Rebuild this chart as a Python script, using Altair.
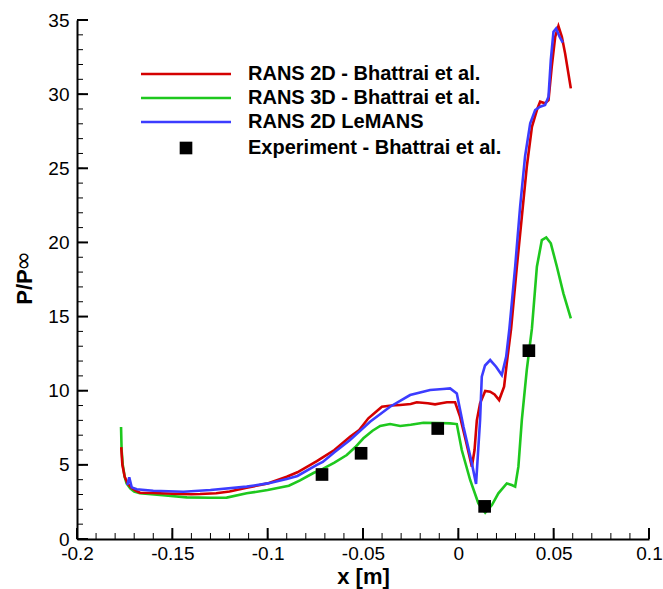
import altair as alt
import pandas as pd

FONT = "Liberation Sans"

# ---- data ----
red_x = [-0.1768, -0.1762, -0.1750, -0.1735, -0.1715, -0.1690, -0.1670, -0.1600, -0.1500, -0.1400,
         -0.1355, -0.1270, -0.1200, -0.1110, -0.1000, -0.0900, -0.0844, -0.0742, -0.0711, -0.0650,
         -0.0568, -0.0520, -0.0472, -0.0430, -0.0401, -0.0350, -0.0305, -0.0250, -0.0218, -0.0160,
         -0.0122, -0.0090, -0.0060, -0.0017, 0.0009, 0.0040, 0.0071, 0.0085, 0.0097, 0.0114,
         0.0141, 0.0167, 0.0190, 0.0214, 0.0240, 0.0254, 0.0277, 0.0307, 0.0333, 0.0359,
         0.0386, 0.0412, 0.0429, 0.0455, 0.0473, 0.0490, 0.0508, 0.0525, 0.0543, 0.0560, 0.0590]
red_y = [6.2, 5.0, 4.2, 3.75, 3.45, 3.25, 3.12, 3.10, 3.05, 3.02,
         3.03, 3.08, 3.2, 3.45, 3.75, 4.2, 4.5, 5.25, 5.5, 6.0,
         6.9, 7.35, 8.14, 8.6, 8.92, 9.0, 9.04, 9.1, 9.22, 9.15,
         9.08, 9.15, 9.22, 9.22, 8.25, 6.6, 4.88, 6.0, 8.0, 9.15,
         9.98, 9.93, 9.75, 9.37, 10.27, 11.85, 14.2, 18.36, 21.73, 25.1,
         27.8, 28.93, 29.49, 29.38, 29.6, 31.85, 33.87, 34.59, 33.87, 32.75, 30.39]

green_x = [-0.1769, -0.1766, -0.1760, -0.1750, -0.1740, -0.1720, -0.1700, -0.1670, -0.1550, -0.1424,
           -0.1300, -0.1215, -0.1110, -0.1000, -0.0889, -0.0830, -0.0760, -0.0711, -0.0650, -0.0585,
           -0.0540, -0.0498, -0.0450, -0.0410, -0.0358, -0.0305, -0.0250, -0.0183, -0.0100, -0.0043,
           -0.0008, 0.0018, 0.0062, 0.0105, 0.0141, 0.0176, 0.0210, 0.0254, 0.0280, 0.0298,
           0.0315, 0.0333, 0.0359, 0.0386, 0.0412, 0.0438, 0.0461, 0.0485, 0.0517, 0.0551, 0.0590]
green_y = [7.55, 6.0, 5.0, 4.2, 3.75, 3.4, 3.2, 3.08, 2.95, 2.81,
           2.78, 2.79, 3.08, 3.3, 3.59, 3.95, 4.45, 4.73, 5.15, 5.66,
           6.2, 6.79, 7.3, 7.62, 7.75, 7.62, 7.7, 7.84, 7.82, 7.8,
           7.75, 6.0, 3.98, 2.41, 1.78, 2.29, 3.08, 3.75, 3.64, 3.53,
           4.88, 8.02, 11.4, 14.2, 18.36, 20.16, 20.34, 19.94, 18.36, 16.57, 14.88]

blue_x = [-0.1736, -0.1726, -0.1713, -0.1687, -0.1600, -0.1442, -0.1300, -0.1110, -0.1000, -0.0900,
          -0.0844, -0.0742, -0.0711, -0.0650, -0.0568, -0.0463, -0.0358, -0.0253, -0.0148, -0.0080,
          -0.0043, -0.0008, 0.0027, 0.0071, 0.0093, 0.0114, 0.0123, 0.0140, 0.0167, 0.0198,
          0.0228, 0.0251, 0.0268, 0.0298, 0.0324, 0.0350, 0.0377, 0.0403, 0.0429, 0.0455,
          0.0473, 0.0485, 0.0499, 0.0513, 0.0531, 0.0548]
blue_y = [3.64, 4.16, 3.48, 3.35, 3.25, 3.19, 3.3, 3.53, 3.75, 4.05,
          4.25, 5.0, 5.2, 5.85, 6.68, 7.91, 8.92, 9.71, 10.05, 10.12,
          10.16, 9.82, 7.57, 5.1, 3.71, 8.02, 10.95, 11.7, 12.07, 11.62,
          11.06, 12.3, 14.2, 18.36, 22.4, 25.8, 28.03, 28.93, 29.15, 29.27,
          29.83, 32.3, 34.2, 34.43, 33.87, 33.47]

exp_x = [-0.0715, -0.0510, -0.0108, 0.0138, 0.0370]
exp_y = [4.35, 5.78, 7.45, 2.2, 12.7]

series_names = ["RANS 2D - Bhattrai et al.", "RANS 3D - Bhattrai et al.",
                "RANS 2D LeMANS", "Experiment - Bhattrai et al."]

x_major = [-0.2, -0.15, -0.1, -0.05, 0.0, 0.05, 0.1]
y_major = [0, 5, 10, 15, 20, 25, 30, 35]
x_minor = [round(-0.2 + 0.01 * i, 2) for i in range(31)]
y_minor = list(range(36))

RED, GREEN, BLUE = "#d40000", "#1ec81e", "#3c3cff"

W, H = 572, 519
xs = alt.Scale(domain=[-0.2, 0.1], nice=False, zero=False)
ys = alt.Scale(domain=[0, 35], nice=False, zero=False)
MINUS = "replace(format(datum.value, '~g'), '\u2212', '-')"

ax_x = alt.Axis(values=x_major, ticks=False, grid=False, domain=True, domainColor="black",
                domainWidth=2, labelFont=FONT, labelFontSize=19, labelColor="black",
                labelPadding=5, labelExpr=MINUS, labelFlush=False, labelOverlap=False,
                title="x [m]", titleFont=FONT, titleFontSize=22, titleFontWeight="bold",
                titleColor="black", titleY=44, titleBaseline="alphabetic")
ax_y = alt.Axis(values=y_major, ticks=False, grid=False, domain=True, domainColor="black",
                domainWidth=2, labelFont=FONT, labelFontSize=19, labelColor="black",
                labelPadding=8, labelExpr=MINUS, labelFlush=False, labelOverlap=False,
                title="")


def curve(xv, yv, color):
    df = pd.DataFrame({"x": xv, "y": yv, "i": list(range(len(xv)))})
    return alt.Chart(df).mark_line(color=color, strokeWidth=2.6).encode(
        x=alt.X("x:Q", scale=xs, axis=ax_x),
        y=alt.Y("y:Q", scale=ys, axis=ax_y),
        order="i:Q")


def xticks(vals, length, width):
    return alt.Chart(pd.DataFrame({"v": vals})).mark_rule(color="black", strokeWidth=width).encode(
        x=alt.X("v:Q", scale=xs, axis=ax_x), y=alt.value(H), y2=alt.value(H - length))


def yticks(vals, length, width):
    return alt.Chart(pd.DataFrame({"v": vals})).mark_rule(color="black", strokeWidth=width).encode(
        y=alt.Y("v:Q", scale=ys, axis=ax_y), x=alt.value(0), x2=alt.value(length))


exp_df = pd.DataFrame({"x": exp_x, "y": exp_y})
exp_layer = alt.Chart(exp_df).mark_square(size=160, color="black", opacity=1).encode(
    x=alt.X("x:Q", scale=xs, axis=ax_x), y=alt.Y("y:Q", scale=ys, axis=ax_y))

# legend
rows_y = [54, 78, 102, 128]
legend_layers = []
for col, yy in zip([RED, GREEN, BLUE], rows_y[:3]):
    legend_layers.append(
        alt.Chart(pd.DataFrame({"a": [0]})).mark_rule(color=col, strokeWidth=2.6).encode(
            x=alt.value(64), x2=alt.value(154), y=alt.value(yy)))
legend_layers.append(
    alt.Chart(pd.DataFrame({"a": [0]})).mark_square(size=160, color="black", opacity=1).encode(
        x=alt.value(109), y=alt.value(rows_y[3])))
for name, yy in zip(series_names, rows_y):
    legend_layers.append(
        alt.Chart(pd.DataFrame({"t": [name]})).mark_text(
            align="left", baseline="middle", font=FONT, fontSize=20, fontWeight="bold",
            color="black").encode(x=alt.value(171), y=alt.value(yy), text="t:N"))

# y title with subscript infinity
ytitle = [
    alt.Chart(pd.DataFrame({"t": ["P/P"]})).mark_text(
        angle=270, align="center", baseline="alphabetic", font=FONT, fontSize=22,
        fontWeight="bold", color="black").encode(x=alt.value(-45), y=alt.value(267), text="t:N"),
    alt.Chart(pd.DataFrame({"t": ["\u221e"]})).mark_text(
        angle=270, align="center", baseline="middle", font="DejaVu Sans", fontSize=24,
        color="black").encode(x=alt.value(-53), y=alt.value(241), text="t:N"),
]

chart = alt.layer(
    xticks(x_minor, 6, 1), xticks(x_major, 11, 2),
    yticks(y_minor, 6, 1), yticks(y_major, 11, 2),
    curve(green_x, green_y, GREEN), curve(red_x, red_y, RED), curve(blue_x, blue_y, BLUE),
    exp_layer, *legend_layers, *ytitle
).properties(
    width=W, height=H,
    autosize=alt.AutoSizeParams(type="none"),
    padding={"left": 77, "top": 20, "right": 14, "bottom": 50},
    background="white",
).configure_view(stroke="transparent")

chart.save("out.html", embed_options={"renderer": "svg", "actions": False})
